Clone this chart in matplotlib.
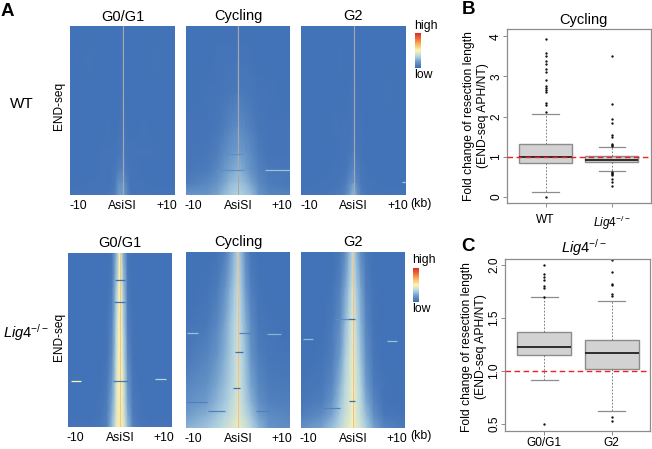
# -*- coding: utf-8 -*-
import matplotlib
matplotlib.use('Agg')
import matplotlib.pyplot as plt
import numpy as np
from matplotlib.colors import LinearSegmentedColormap

plt.rcParams['font.family'] = ['Liberation Sans', 'DejaVu Sans']
plt.rcParams['mathtext.fontset'] = 'custom'
plt.rcParams['mathtext.it'] = 'Liberation Sans:italic'
plt.rcParams['mathtext.rm'] = 'Liberation Sans'

W, H = 652, 449

# heatmap sampling nodes, kb from the site and fraction of panel height
x_nodes = [-10, -6, -4, -2.5, -1.5, -0.7, -0.15, 0, 0.15, 0.7, 1.5, 2.5, 4, 6, 10]
y_nodes = [0, 0.2, 0.4, 0.6, 0.75, 0.85, 0.93, 1]

wt_g0 = [
    [.02, .02, .02, .02, .02, .02, .03, .05, .03, .02, .02, .02, .02, .02, .02],
    [.02, .03, .02, .02, .02, .02, .03, .05, .03, .02, .02, .02, .02, .03, .02],
    [.02, .02, .02, .02, .02, .02, .03, .05, .03, .02, .02, .02, .02, .02, .02],
    [.02, .02, .02, .03, .02, .03, .04, .05, .04, .03, .02, .02, .03, .02, .02],
    [.02, .02, .03, .03, .03, .04, .05, .06, .05, .04, .03, .03, .03, .03, .02],
    [.02, .02, .03, .03, .04, .07, .08, .09, .08, .05, .03, .03, .02, .02, .02],
    [.02, .03, .03, .03, .05, .14, .14, .15, .14, .09, .03, .03, .03, .02, .02],
    [.03, .03, .03, .04, .07, .18, .18, .20, .18, .12, .04, .03, .03, .03, .03],
]
wt_cyc = [
    [.02, .02, .02, .02, .02, .02, .03, .05, .03, .02, .02, .02, .02, .02, .02],
    [.02, .02, .03, .03, .03, .03, .04, .05, .04, .03, .03, .03, .02, .02, .02],
    [.02, .03, .03, .04, .05, .05, .06, .07, .06, .05, .05, .04, .03, .03, .02],
    [.03, .03, .04, .07, .09, .11, .12, .13, .12, .11, .09, .07, .04, .03, .03],
    [.03, .04, .07, .12, .15, .17, .18, .19, .18, .17, .15, .11, .06, .03, .03],
    [.04, .06, .10, .17, .20, .22, .24, .25, .24, .22, .19, .14, .08, .05, .04],
    [.06, .10, .15, .21, .26, .27, .28, .29, .28, .27, .25, .20, .11, .06, .05],
    [.16, .16, .20, .27, .30, .32, .33, .34, .33, .32, .30, .27, .15, .09, .08],
]
wt_g2 = [
    [.02, .02, .02, .02, .02, .02, .03, .04, .03, .02, .02, .02, .02, .02, .02],
    [.02, .02, .02, .03, .02, .02, .03, .04, .03, .02, .02, .02, .02, .02, .02],
    [.02, .02, .02, .02, .02, .03, .03, .04, .03, .03, .02, .02, .02, .03, .02],
    [.02, .02, .03, .03, .03, .03, .04, .05, .04, .03, .03, .02, .02, .02, .02],
    [.02, .02, .02, .03, .03, .04, .05, .06, .05, .04, .03, .02, .02, .02, .02],
    [.02, .02, .03, .03, .04, .07, .09, .10, .09, .07, .04, .03, .02, .02, .02],
    [.02, .03, .03, .04, .06, .12, .14, .15, .14, .10, .05, .03, .03, .02, .02],
    [.03, .03, .04, .06, .09, .18, .26, .28, .26, .16, .07, .04, .03, .03, .03],
]
lig_g0 = [
    [.02, .02, .02, .02, .04, .24, .42, .50, .42, .22, .04, .02, .02, .02, .02],
    [.02, .02, .02, .02, .06, .30, .47, .50, .47, .28, .05, .02, .02, .02, .02],
    [.02, .02, .02, .03, .09, .34, .50, .52, .50, .32, .07, .03, .02, .02, .02],
    [.02, .02, .02, .03, .13, .37, .50, .52, .50, .36, .11, .03, .02, .02, .02],
    [.02, .02, .02, .05, .18, .40, .50, .52, .50, .40, .16, .04, .02, .02, .02],
    [.02, .02, .03, .06, .21, .41, .51, .52, .51, .41, .19, .05, .03, .02, .02],
    [.02, .02, .03, .07, .24, .42, .52, .53, .52, .42, .22, .06, .03, .02, .02],
    [.03, .03, .04, .08, .27, .44, .52, .53, .52, .44, .26, .08, .04, .03, .03],
]
lig_cyc = [
    [.02, .02, .03, .07, .17, .26, .30, .32, .30, .25, .12, .04, .02, .02, .02],
    [.02, .03, .06, .14, .23, .30, .34, .36, .34, .28, .17, .07, .03, .02, .02],
    [.03, .05, .10, .20, .28, .33, .37, .39, .37, .31, .23, .11, .04, .03, .02],
    [.05, .09, .16, .24, .30, .35, .38, .40, .38, .34, .27, .15, .07, .04, .03],
    [.09, .14, .21, .27, .32, .36, .40, .42, .40, .35, .29, .20, .10, .06, .05],
    [.13, .18, .25, .30, .34, .38, .41, .43, .41, .37, .31, .24, .13, .08, .07],
    [.18, .24, .29, .33, .37, .40, .42, .44, .42, .39, .35, .29, .19, .12, .09],
    [.24, .29, .33, .38, .41, .44, .45, .47, .45, .43, .40, .34, .25, .15, .12],
]
lig_g2 = [
    [.02, .02, .02, .05, .12, .25, .32, .34, .32, .24, .12, .05, .02, .02, .02],
    [.02, .02, .03, .08, .20, .30, .38, .40, .38, .30, .20, .07, .03, .02, .02],
    [.02, .02, .05, .12, .26, .35, .42, .44, .42, .34, .24, .10, .03, .02, .02],
    [.02, .03, .07, .18, .31, .39, .44, .46, .44, .38, .28, .14, .04, .02, .02],
    [.03, .05, .10, .24, .34, .40, .45, .47, .45, .40, .32, .18, .06, .03, .02],
    [.04, .07, .15, .28, .36, .41, .46, .48, .46, .41, .34, .22, .09, .03, .02],
    [.07, .12, .21, .31, .38, .42, .47, .48, .47, .42, .36, .27, .13, .05, .03],
    [.13, .20, .28, .35, .41, .45, .48, .50, .48, .44, .40, .32, .20, .09, .05],
]

# colour of the thin line at the site in each panel
wt_site = '#aaa6ae'
lig_g0_site = '#f6c877'
lig_site = '#f2c08e'

# streaks in the heatmaps: y fraction, x start, x end, value
wt_cyc_streaks = [(.854, 5.2, 10, .28), (.854, -4.2, 1.2, .13), (.755, -2.5, 1, .13)]
wt_g2_streaks = [(.925, 9.2, 10, .28)]
lig_g0_streaks = [(.737, -9.4, -7.5, .5), (.723, 6.7, 8.9, .34), (.156, -1, .9, .01),
                  (.284, -1.2, 1, .02), (.737, -1.3, 1.5, .04)]
lig_cyc_streaks = [(.463, -9.9, -7.6, .28), (.465, 5.5, 8.3, .24), (.57, -.6, .9, 0),
                   (.774, -.9, .3, 0), (.903, -5.7, -2.5, .08), (.903, 3.5, 6, .08),
                   (.85, -10, -6, .08), (.463, .2, 2.5, .08)]
lig_g2_streaks = [(.493, -9.6, -7.6, .26), (.507, 6.5, 8.4, .28), (.38, -1, .4, 0),
                  (.846, -.8, .3, 0), (.886, -5.7, -2.5, .08), (.38, -3.5, -1, .12)]

# boxplot numbers
b_labels = ['WT', r'$\mathit{Lig4}^{-/-}$']
b_med = [1.0, 0.93]
b_q1 = [0.85, 0.87]
b_q3 = [1.33, 1.03]
b_lo = [0.13, 0.65]
b_hi = [2.07, 1.25]
b_fliers = [
    [0, 2.12, 2.3, 2.33, 2.6, 2.65, 2.7, 2.75, 2.92, 3.12, 3.18, 3.32, 3.38, 3.52, 3.58, 3.93],
    [.27, .38, .45, .55, .58, .6, .63, 1.27, 1.3, 1.33, 1.5, 1.53, 1.85, 1.93, 2.32, 3.5],
]
c_labels = ['G0/G1', 'G2']
c_med = [1.223, 1.167]
c_q1 = [1.148, 1.016]
c_q3 = [1.365, 1.29]
c_lo = [0.912, 0.62]
c_hi = [1.70, 1.66]
c_fliers = [
    [.5, 1.7, 1.78, 1.8, 1.86, 1.89, 1.92, 2.0],
    [.53, .57, 1.71, 1.73, 1.81, 1.82, 1.93, 2.05],
]

cmap = LinearSegmentedColormap.from_list('endseq', [
    (0, '#3d6db4'), (.18, '#6f9ccb'), (.33, '#b4d4e2'), (.5, '#fbf6b8'),
    (.68, '#fbb55f'), (.85, '#ee6a35'), (1, '#d8302a')])


def add_ax(x0, y0, x1, y1):
    # pixel box, measured from the top left of the picture
    return fig.add_axes([x0 / W, 1 - y1 / H, (x1 - x0) / W, (y1 - y0) / H])


def put(x, y, s, **kw):
    kw.setdefault('ha', 'center')
    kw.setdefault('va', 'center')
    fig.text(x / W, 1 - y / H, s, **kw)


def heatmap(box, values, streaks, site, title, title_y):
    ax = add_ax(*box)
    ax.pcolormesh(x_nodes, y_nodes, np.array(values), cmap=cmap, vmin=0, vmax=1,
                  shading='gouraud', rasterized=True)
    ax.axvline(0, color=site, lw=0.8)
    for y, x0, x1, v in streaks:
        ax.hlines(y, x0, x1, color=cmap(v), lw=0.9)
    ax.set_xlim(-10, 10)
    ax.set_ylim(1, 0)
    ax.set_yticks([])
    ax.set_xticks([-8.5, 0, 8.4], ['-10', 'AsiSI', '+10'], fontsize=8.8)
    ax.tick_params(axis='x', length=0, pad=3.5)
    for s in ax.spines.values():
        s.set_visible(False)
    put((box[0] + box[2]) / 2, title_y, title, fontsize=10.5)
    return ax


def colorbar(x0, y0, x1, y1, top_y, low_y):
    ax = add_ax(x0, y0, x1, y1)
    ax.imshow(np.linspace(1, 0, 64).reshape(-1, 1), cmap=cmap, aspect='auto', vmin=0, vmax=1)
    ax.axis('off')
    put(x0 - 1, top_y, 'high', fontsize=8.8, ha='left')
    put(x0 - 1, low_y, 'low', fontsize=8.8, ha='left')


def boxes(ax, labels, med, q1, q3, lo, hi, fliers, xpad):
    stats = []
    for i, name in enumerate(labels):
        stats.append(dict(label=name, med=med[i], q1=q1[i], q3=q3[i],
                          whislo=lo[i], whishi=hi[i], fliers=fliers[i]))
    grey = '#8c8c8c'
    ax.bxp(stats, positions=[1, 2], widths=0.8, patch_artist=True,
           boxprops=dict(facecolor='#d2d2d2', edgecolor=grey, lw=1),
           medianprops=dict(color='#111111', lw=1.2),
           whiskerprops=dict(color='#666666', lw=0.6, ls=(0, (2, 2))),
           capprops=dict(color=grey, lw=0.9),
           flierprops=dict(marker='o', ms=1.7, mfc='#111111', mec='#111111', mew=0))
    for s in ax.spines.values():
        s.set_color(grey)
        s.set_linewidth(0.9)
    ax.tick_params(axis='both', color=grey, labelsize=8.6, length=3, width=0.7)
    ax.tick_params(axis='x', pad=xpad)
    ax.tick_params(axis='y', pad=0.5)


fig = plt.figure(figsize=(W / 100, H / 100), dpi=100)

# panel A, WT row then Lig4 row
heatmap((70, 26, 175, 195), wt_g0, [], wt_site, 'G0/G1', 17)
heatmap((186, 26, 290, 195), wt_cyc, wt_cyc_streaks, wt_site, 'Cycling', 16)
heatmap((301, 26, 406, 195), wt_g2, wt_g2_streaks, wt_site, 'G2', 16)
heatmap((68, 253, 172, 427), lig_g0, lig_g0_streaks, lig_g0_site, 'G0/G1', 243)
heatmap((186, 252, 290, 428), lig_cyc, lig_cyc_streaks, lig_site, 'Cycling', 242)
heatmap((301, 252, 405, 428), lig_g2, lig_g2_streaks, lig_site, 'G2', 242)
colorbar(415, 33, 421, 68, 26, 75)
colorbar(413, 268, 419, 302, 260, 309)

put(421, 204, '(kb)', fontsize=8.8)
put(421, 436, '(kb)', fontsize=8.8)
put(59, 106, 'END-seq', fontsize=8.6, rotation=90)
put(59, 337, 'END-seq', fontsize=8.6, rotation=90)
put(22, 104, 'WT', fontsize=11)
put(26, 333, r'$\mathit{Lig4}^{-/-}$', fontsize=10.5)
put(1, 11, 'A', fontsize=13.5, fontweight='bold', ha='left')
put(462, 10, 'B', fontsize=13.5, fontweight='bold', ha='left')
put(461, 246, 'C', fontsize=13.5, fontweight='bold', ha='left')

# panel B
ax_b = add_ax(507, 29, 651, 203)
ax_b.axhline(1, color='#f02020', lw=1.0, ls=(0, (4, 2.5)), zorder=5)
boxes(ax_b, b_labels, b_med, b_q1, b_q3, b_lo, b_hi, b_fliers, 5)
ax_b.set_xlim(0.414, 2.595)
ax_b.set_ylim(-0.15, 4.18)
ax_b.set_yticks([0, 1, 2, 3, 4])
for t in ax_b.get_yticklabels():
    t.set_rotation(90)
    t.set_va('center')
put(583, 20, 'Cycling', fontsize=10.5)
put(476, 116, 'Fold change of resection length\n(END-seq APH/NT)', fontsize=8.7,
    rotation=90, linespacing=1.12, multialignment='center')

# panel C
ax_c = add_ax(505, 259, 650, 431)
ax_c.axhline(1, color='#f02020', lw=1.0, ls=(0, (4, 2.5)), zorder=5)
boxes(ax_c, c_labels, c_med, c_q1, c_q3, c_lo, c_hi, c_fliers, 1)
ax_c.set_xlim(0.417, 2.568)
ax_c.set_ylim(0.434, 2.057)
ax_c.set_yticks([0.5, 1.0, 1.5, 2.0])
ax_c.set_yticklabels(['0.5', '1.0', '1.5', '2.0'])
for t in ax_c.get_yticklabels():
    t.set_rotation(90)
    t.set_va('center')
put(584, 248, r'$\mathit{Lig4}^{-/-}$', fontsize=10.5)
put(474, 347, 'Fold change of resection length\n(END-seq APH/NT)', fontsize=8.7,
    rotation=90, linespacing=1.12, multialignment='center')

fig.savefig('out.png', dpi=100)
